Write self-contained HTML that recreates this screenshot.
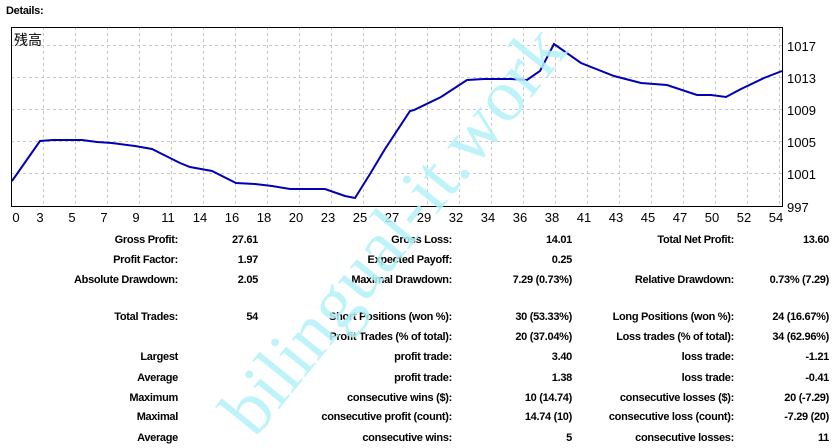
<!DOCTYPE html>
<html><head><meta charset="utf-8"><style>
body{margin:0;background:#fff;width:834px;height:448px;overflow:hidden;position:relative;font-family:"Liberation Sans","Noto Sans CJK JP",sans-serif}
svg{position:absolute;left:0;top:0}
.t{font-size:11px;font-weight:bold;fill:#000;letter-spacing:-0.3px}
.a{font-size:13px;fill:#000}
</style></head><body>
<svg width="834" height="448" viewBox="0 0 834 448">
<text x="6" y="14" class="t">Details:</text>
<g stroke="#c8c8c8" stroke-dasharray="3,3" stroke-width="1">
<line x1="11" x2="782" y1="45.5" y2="45.5"/><line x1="11" x2="782" y1="77.5" y2="77.5"/><line x1="11" x2="782" y1="109.5" y2="109.5"/><line x1="11" x2="782" y1="141.5" y2="141.5"/><line x1="11" x2="782" y1="173.5" y2="173.5"/>
<line x1="43.5" x2="43.5" y1="27" y2="206"/><line x1="75.5" x2="75.5" y1="27" y2="206"/><line x1="107.5" x2="107.5" y1="27" y2="206"/><line x1="139.5" x2="139.5" y1="27" y2="206"/><line x1="171.5" x2="171.5" y1="27" y2="206"/><line x1="203.5" x2="203.5" y1="27" y2="206"/><line x1="235.5" x2="235.5" y1="27" y2="206"/><line x1="267.5" x2="267.5" y1="27" y2="206"/><line x1="299.5" x2="299.5" y1="27" y2="206"/><line x1="331.5" x2="331.5" y1="27" y2="206"/><line x1="363.5" x2="363.5" y1="27" y2="206"/><line x1="395.5" x2="395.5" y1="27" y2="206"/><line x1="427.5" x2="427.5" y1="27" y2="206"/><line x1="459.5" x2="459.5" y1="27" y2="206"/><line x1="491.5" x2="491.5" y1="27" y2="206"/><line x1="523.5" x2="523.5" y1="27" y2="206"/><line x1="555.5" x2="555.5" y1="27" y2="206"/><line x1="587.5" x2="587.5" y1="27" y2="206"/><line x1="619.5" x2="619.5" y1="27" y2="206"/><line x1="651.5" x2="651.5" y1="27" y2="206"/><line x1="683.5" x2="683.5" y1="27" y2="206"/><line x1="715.5" x2="715.5" y1="27" y2="206"/><line x1="747.5" x2="747.5" y1="27" y2="206"/><line x1="779.5" x2="779.5" y1="27" y2="206"/>
</g>
<rect x="11.5" y="27.5" width="771" height="179" fill="none" stroke="#000" stroke-width="1"/>
<text x="14" y="45" style="font-size:14px" fill="#000">残高</text>
<polyline fill="none" stroke="#0000b4" stroke-width="2" points="12,181 40,141 53,140 82,140 97,142 112,143 135,146 152,149 160,153 180,163 190,167 212,171 236,183 255,184 272,186 290,189 325,189 345,196 355,198 370,174 385,149 410,111 414,110 441,97 467,80 484,79 511,79 527,80 540,71 554,44 581,63 614,76 641,83 667,85 697,95 711,95 726,97 741,89 764,78 782,71"/>
<g class="a">
<text x="787" y="51">1017</text><text x="787" y="83">1013</text><text x="787" y="115">1009</text><text x="787" y="147">1005</text><text x="787" y="179">1001</text><text x="787" y="212">997</text>
</g>
<g class="a" text-anchor="middle">
<text x="16" y="222">0</text><text x="40" y="222">3</text><text x="72" y="222">5</text><text x="104" y="222">7</text><text x="136" y="222">9</text><text x="168" y="222">11</text><text x="200" y="222">14</text><text x="232" y="222">16</text><text x="264" y="222">18</text><text x="296" y="222">20</text><text x="328" y="222">23</text><text x="360" y="222">25</text><text x="392" y="222">27</text><text x="424" y="222">29</text><text x="456" y="222">32</text><text x="488" y="222">34</text><text x="520" y="222">36</text><text x="552" y="222">38</text><text x="584" y="222">41</text><text x="616" y="222">43</text><text x="648" y="222">45</text><text x="680" y="222">47</text><text x="712" y="222">50</text><text x="744" y="222">52</text><text x="776" y="222">54</text>
</g>
<g class="t" text-anchor="end">
<text x="178" y="243">Gross Profit:</text><text x="258" y="243">27.61</text><text x="452" y="243">Gross Loss:</text><text x="572" y="243">14.01</text><text x="734" y="243">Total Net Profit:</text><text x="829" y="243">13.60</text>
<text x="178" y="263">Profit Factor:</text><text x="258" y="263">1.97</text><text x="452" y="263">Expected Payoff:</text><text x="572" y="263">0.25</text>
<text x="178" y="283">Absolute Drawdown:</text><text x="258" y="283">2.05</text><text x="452" y="283">Maximal Drawdown:</text><text x="572" y="283">7.29 (0.73%)</text><text x="734" y="283">Relative Drawdown:</text><text x="829" y="283">0.73% (7.29)</text>
<text x="178" y="320">Total Trades:</text><text x="258" y="320">54</text><text x="452" y="320">Short Positions (won %):</text><text x="572" y="320">30 (53.33%)</text><text x="734" y="320">Long Positions (won %):</text><text x="829" y="320">24 (16.67%)</text>
<text x="452" y="340">Profit Trades (% of total):</text><text x="572" y="340">20 (37.04%)</text><text x="734" y="340">Loss trades (% of total):</text><text x="829" y="340">34 (62.96%)</text>
<text x="178" y="360">Largest</text><text x="452" y="360">profit trade:</text><text x="572" y="360">3.40</text><text x="734" y="360">loss trade:</text><text x="829" y="360">-1.21</text>
<text x="178" y="381">Average</text><text x="452" y="381">profit trade:</text><text x="572" y="381">1.38</text><text x="734" y="381">loss trade:</text><text x="829" y="381">-0.41</text>
<text x="178" y="401">Maximum</text><text x="452" y="401">consecutive wins ($):</text><text x="572" y="401">10 (14.74)</text><text x="734" y="401">consecutive losses ($):</text><text x="829" y="401">20 (-7.29)</text>
<text x="178" y="420">Maximal</text><text x="452" y="420">consecutive profit (count):</text><text x="572" y="420">14.74 (10)</text><text x="734" y="420">consecutive loss (count):</text><text x="829" y="420">-7.29 (20)</text>
<text x="178" y="441">Average</text><text x="452" y="441">consecutive wins:</text><text x="572" y="441">5</text><text x="734" y="441">consecutive losses:</text><text x="829" y="441">11</text>
</g>
<text x="0" y="0" transform="translate(412,245) rotate(-51)" text-anchor="middle" style="font-family:'Liberation Serif',serif;font-size:74px;fill:#b4f2fa;opacity:0.85">bilingual-it.work</text>
</svg>
</body></html>
